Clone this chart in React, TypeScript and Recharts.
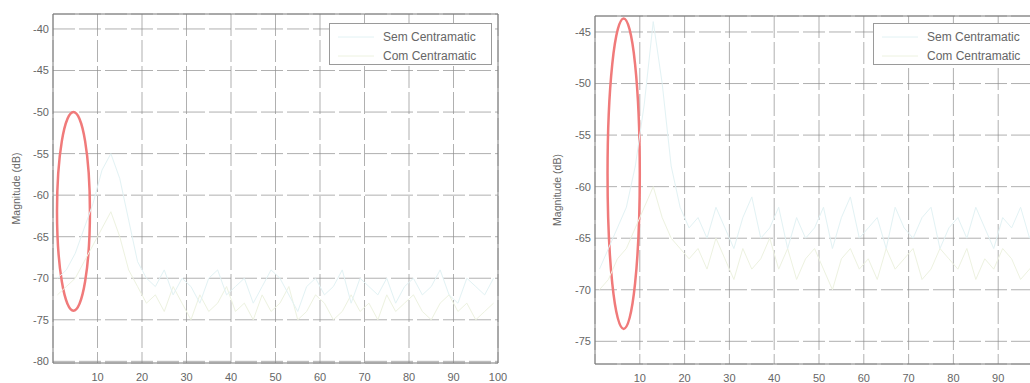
import React from "react";
import {
  LineChart,
  Line,
  XAxis,
  YAxis,
  CartesianGrid,
  ReferenceArea,
  ReferenceLine,
  Legend,
  Label,
} from "recharts";

const freqs = [
  1, 3, 5, 7, 9, 11, 13, 15, 17, 19, 21, 23, 25, 27, 29, 31, 33, 35, 37, 39,
  41, 43, 45, 47, 49, 51, 53, 55, 57, 59, 61, 63, 65, 67, 69, 71, 73, 75, 77, 79,
  81, 83, 85, 87, 89, 91, 93, 95, 97, 99,
];

const leftSem = [
  -70, -69, -67, -64, -61, -57, -55, -58, -63, -68,
  -70, -71, -69, -72, -70, -71, -73, -70, -69, -72,
  -71, -70, -73, -71, -69, -70, -72, -74, -71, -70,
  -72, -71, -69, -73, -70, -71, -72, -70, -73, -71,
  -70, -72, -71, -69, -72, -73, -70, -71, -72, -70,
];
const leftCom = [
  -72, -71, -70, -68, -66, -64, -62, -65, -69, -71,
  -73, -72, -74, -71, -73, -75, -72, -74, -73, -71,
  -74, -73, -75, -72, -74, -73, -71, -75, -74, -72,
  -73, -75, -74, -72, -74, -73, -75, -72, -74, -73,
  -72, -74, -75, -73, -72, -74, -73, -75, -74, -73,
];
const rightSem = [
  -68, -66, -64, -62, -58, -52, -44, -50, -58, -62,
  -64, -63, -65, -62, -64, -66, -63, -61, -65, -64,
  -62, -66, -63, -65, -64, -62, -66, -63, -61, -65,
  -64, -63, -66, -62, -64, -65, -63, -62, -66, -64,
  -63, -65, -62, -64, -66, -63, -64, -62, -65, -63,
];
const rightCom = [
  -70, -69, -67, -66, -64, -62, -60, -63, -65, -66,
  -67, -66, -68, -65, -67, -69, -66, -68, -67, -65,
  -68, -66, -69, -67, -66, -68, -70, -67, -66, -68,
  -67, -69, -66, -68, -67, -66, -69, -68, -66, -67,
  -68, -66, -69, -67, -68, -66, -67, -69, -68, -67,
];

const leftXTicks = [10, 20, 30, 40, 50, 60, 70, 80, 90, 100];
const rightXTicks = [10, 20, 30, 40, 50, 60, 70, 80, 90];
const leftYTicks = [-80, -75, -70, -65, -60, -55, -50, -45, -40];
const rightYTicks = [-75, -70, -65, -60, -55, -50, -45];
const seriesNames = ["Sem Centramatic", "Com Centramatic"];
const yLabel = "Magnitude (dB)";

const leftEllipse = { x1: 0.9, x2: 8.3, y1: -73.9, y2: -50 };
const rightEllipse = { x1: 2.8, x2: 10.0, y1: -73.8, y2: -43.7 };

const FONT = "'Liberation Sans', Arial, Helvetica, sans-serif";
const SEM_COLOR = "#e2f2f4";
const COM_COLOR = "#edf2e0";
const AXIS = "#7a7a7a";
const GRID = "#8e8e8e";
const TEXT = "#666";
const RED = "#f07a7a";

const leftData = freqs.map((f, i) => ({ f, sem: leftSem[i], com: leftCom[i] }));
const rightData = freqs.map((f, i) => ({ f, sem: rightSem[i], com: rightCom[i] }));

const EllipseShape = (props: any) => {
  const { x, y, width, height } = props;
  return (
    <ellipse
      cx={x + width / 2}
      cy={y + height / 2}
      rx={Math.abs(width) / 2}
      ry={Math.abs(height) / 2}
      fill="none"
      stroke={RED}
      strokeWidth={2.5}
    />
  );
};

const LegendBox = () => (
  <div
    style={{
      border: "1px solid #9a9a9a",
      background: "#fff",
      height: 42,
      boxSizing: "border-box",
      fontFamily: FONT,
      fontSize: 12,
      color: TEXT,
      paddingTop: 3,
    }}
  >
    {seriesNames.map((n, i) => (
      <div key={n} style={{ display: "flex", alignItems: "center", height: 19, whiteSpace: "nowrap" }}>
        <svg width={52} height={10} style={{ flex: "none" }}>
          <line x1={8} x2={44} y1={5} y2={5} stroke={i === 0 ? SEM_COLOR : COM_COLOR} strokeWidth={1} />
        </svg>
        <span style={{ paddingLeft: 1 }}>{n}</span>
      </div>
    ))}
  </div>
);

const YLabelContent = (offsetX: number) => (props: any) => {
  const vb = props.viewBox || {};
  const cx = (vb.x || 0) + offsetX;
  const cy = (vb.y || 0) + (vb.height || 0) / 2;
  return (
    <text
      x={cx}
      y={cy}
      transform={`rotate(-90, ${cx}, ${cy})`}
      textAnchor="middle"
      dominantBaseline="central"
      fill={TEXT}
      fontSize={10.5}
      fontFamily={FONT}
    >
      {yLabel}
    </text>
  );
};

type PanelProps = {
  data: any[];
  width: number;
  yWidth: number;
  top: number;
  xHeight: number;
  domain: [number, number];
  xTicks: number[];
  yTicks: number[];
  ellipse: { x1: number; x2: number; y1: number; y2: number };
  legendLeft: number;
  legendWidth: number;
  labelX: number;
};

const Panel = (p: PanelProps) => (
  <LineChart
    width={p.width}
    height={383}
    data={p.data}
    margin={{ top: p.top, right: 12, bottom: 0, left: 0 }}
    style={{ fontFamily: FONT }}
  >
    <CartesianGrid stroke={GRID} strokeDasharray="22 4" strokeWidth={0.7} />
    <XAxis
      dataKey="f"
      type="number"
      domain={[0, 100]}
      ticks={p.xTicks}
      allowDataOverflow
      height={p.xHeight}
      tickLine={false}
      tickSize={0}
      tickMargin={10}
      axisLine={{ stroke: AXIS }}
      tick={{ fill: TEXT, fontSize: 11, fontFamily: FONT }}
      interval={0}
    />
    <YAxis
      type="number"
      domain={p.domain}
      ticks={p.yTicks}
      allowDataOverflow
      width={p.yWidth}
      tickLine={false}
      tickSize={0}
      tickMargin={4}
      axisLine={{ stroke: AXIS }}
      tick={{ fill: TEXT, fontSize: 11, fontFamily: FONT }}
      interval={0}
    >
      <Label content={YLabelContent(p.labelX)} />
    </YAxis>
    <ReferenceLine y={p.domain[1]} stroke={AXIS} ifOverflow="visible" />
    <ReferenceLine x={100} stroke={AXIS} ifOverflow="visible" />
    <Line
      type="linear"
      dataKey="com"
      name={seriesNames[1]}
      stroke={COM_COLOR}
      strokeWidth={1}
      dot={false}
      isAnimationActive={false}
    />
    <Line
      type="linear"
      dataKey="sem"
      name={seriesNames[0]}
      stroke={SEM_COLOR}
      strokeWidth={1}
      dot={false}
      isAnimationActive={false}
    />
    <ReferenceArea
      x1={p.ellipse.x1}
      x2={p.ellipse.x2}
      y1={p.ellipse.y1}
      y2={p.ellipse.y2}
      ifOverflow="visible"
      shape={EllipseShape}
    />
    <Legend
      layout="horizontal"
      verticalAlign="middle"
      align="center"
      content={LegendBox}
      wrapperStyle={{ position: "absolute", top: 23, left: p.legendLeft, width: p.legendWidth, height: 42 }}
    />
  </LineChart>
);

export default function App() {
  return (
    <div
      style={{
        position: "fixed",
        left: 0,
        top: 0,
        width: 1030,
        height: 383,
        overflow: "hidden",
        background: "#fff",
      }}
    >
      <div style={{ position: "absolute", left: 0, top: 0 }}>
        <Panel
          data={leftData}
          width={510}
          yWidth={53}
          top={14}
          xHeight={20}
          domain={[-80.2, -38.2]}
          xTicks={leftXTicks}
          yTicks={leftYTicks}
          ellipse={leftEllipse}
          legendLeft={329}
          legendWidth={163}
          labelX={16}
        />
      </div>
      <div style={{ position: "absolute", left: 540, top: 0 }}>
        <Panel
          data={rightData}
          width={515}
          yWidth={55}
          top={16}
          xHeight={19}
          domain={[-77.2, -43.45]}
          xTicks={rightXTicks}
          yTicks={rightYTicks}
          ellipse={rightEllipse}
          legendLeft={333}
          legendWidth={172}
          labelX={17}
        />
      </div>
    </div>
  );
}
